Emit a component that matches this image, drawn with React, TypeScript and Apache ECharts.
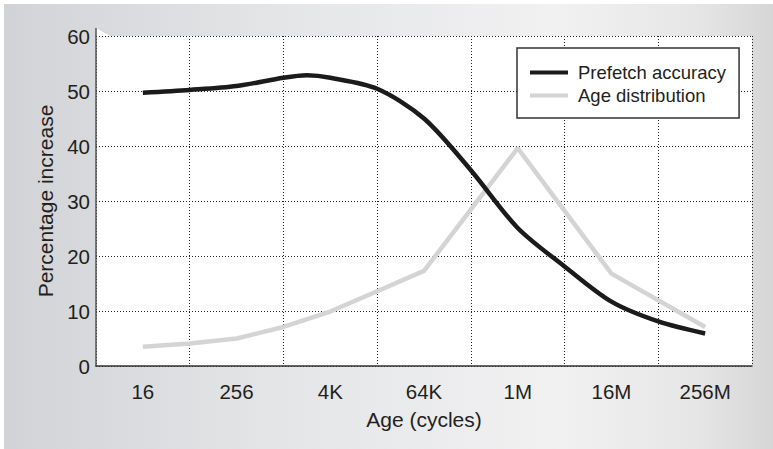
import React, { useEffect, useRef } from "react";
import * as echarts from "echarts";

const categories = ["16", "256", "4K", "64K", "1M", "16M", "256M"];
// x in log2(cycles)
const prefetchX = [4, 6, 8, 10, 11, 12, 14, 16, 18, 20, 22, 24, 26, 28];
const prefetchY = [49.7, 50.2, 50.9, 52.4, 52.85, 52.4, 50.4, 45.0, 35.6, 25.1, 18.1, 11.7, 8.1, 5.9];
const ageX = [4, 6, 8, 10, 12, 14, 16, 20, 24, 28];
const ageY = [3.5, 4.1, 5.0, 7.1, 9.9, 13.6, 17.3, 39.6, 16.8, 7.1];
const yTicks = { min: 0, max: 60, interval: 10 };

export default function App() {
  const ref = useRef<HTMLDivElement>(null);
  useEffect(() => {
    if (!ref.current) return;
    const chart = echarts.init(ref.current, undefined, { renderer: "svg" });
    const font = "'Liberation Sans', Arial, Helvetica, sans-serif";
    const txt = "#231f20";
    chart.setOption({
      animation: false,
      backgroundColor: "transparent",
      textStyle: { fontFamily: font },
      grid: {
        left: 92,
        top: 32,
        right: 21,
        bottom: 83,
        show: true,
        backgroundColor: "#ffffff",
        borderWidth: 0,
        containLabel: false,
      },
      legend: {
        left: 513,
        top: 44,
        orient: "vertical",
        backgroundColor: "#ffffff",
        borderColor: "#333333",
        borderWidth: 1.5,
        borderRadius: 0,
        padding: [15, 13, 13, 13],
        itemGap: 4,
        itemWidth: 38,
        itemHeight: 4,
        icon: "rect",
        textStyle: { fontSize: 18.5, color: txt, fontFamily: font, lineHeight: 18, padding: [0, 0, 0, 5] },
        data: ["Prefetch accuracy", "Age distribution"],
      },
      xAxis: [
        {
          type: "category",
          data: categories,
          boundaryGap: true,
          name: "Age (cycles)",
          nameLocation: "middle",
          nameGap: 43,
          nameTextStyle: { fontSize: 21, color: txt, fontFamily: font },
          axisLine: { show: true, lineStyle: { color: "#333333", width: 1.5 } },
          axisTick: { show: false },
          axisLabel: { fontSize: 20.5, color: txt, margin: 15, fontFamily: font, interval: 0 },
          splitLine: { show: true, interval: 0, lineStyle: { color: "#222222", width: 1, type: [1, 2] } },
        },
        {
          type: "value",
          min: 2,
          max: 30,
          show: false,
          splitLine: { show: false },
        },
      ],
      yAxis: {
        type: "value",
        min: yTicks.min,
        max: yTicks.max,
        interval: yTicks.interval,
        name: "Percentage increase",
        nameLocation: "middle",
        nameGap: 40,
        nameTextStyle: { fontSize: 21, color: txt, fontFamily: font },
        axisLine: { show: true, lineStyle: { color: "#555555", width: 1.5 } },
        axisTick: { show: false },
        axisLabel: { fontSize: 20.5, color: txt, margin: 6, fontFamily: font },
        splitLine: { show: true, lineStyle: { color: "#222222", width: 1, type: [1, 2] } },
      },
      graphic: [
        {
          type: "polygon",
          shape: { points: [[92, 24], [106, 32], [92, 32]] },
          style: { fill: "#ffffff" },
          z: 1,
        },
        {
          type: "line",
          shape: { x1: 92, y1: 24, x2: 92, y2: 32 },
          style: { stroke: "#555555", lineWidth: 1.5 },
          z: 1,
        },
      ],
      series: [
        {
          name: "Age distribution",
          type: "line",
          xAxisIndex: 1,
          data: ageX.map((x, i) => [x, ageY[i]]),
          smooth: false,
          showSymbol: false,
          lineStyle: { color: "#d4d4d4", width: 4.5 },
          itemStyle: { color: "#d4d4d4" },
          z: 2,
        },
        {
          name: "Prefetch accuracy",
          type: "line",
          xAxisIndex: 1,
          data: prefetchX.map((x, i) => [x, prefetchY[i]]),
          smooth: 0.3,
          showSymbol: false,
          lineStyle: { color: "#1c1a1b", width: 4.5 },
          itemStyle: { color: "#1c1a1b" },
          z: 3,
        },
      ],
    });
    return () => chart.dispose();
  }, []);
  return (
    <div style={{ position: "fixed", left: 0, top: 0, width: 773, height: 449, background: "#ffffff" }}>
      <div
        ref={ref}
        style={{
          position: "absolute",
          left: 4,
          top: 4,
          width: 769,
          height: 445,
          background:
            "linear-gradient(to right, #d1d3d6 0%, #e4e5e7 35%, #f1f1f2 72%, #e6e6e6 90%, #d6d6d6 100%)",
        }}
      />
    </div>
  );
}
